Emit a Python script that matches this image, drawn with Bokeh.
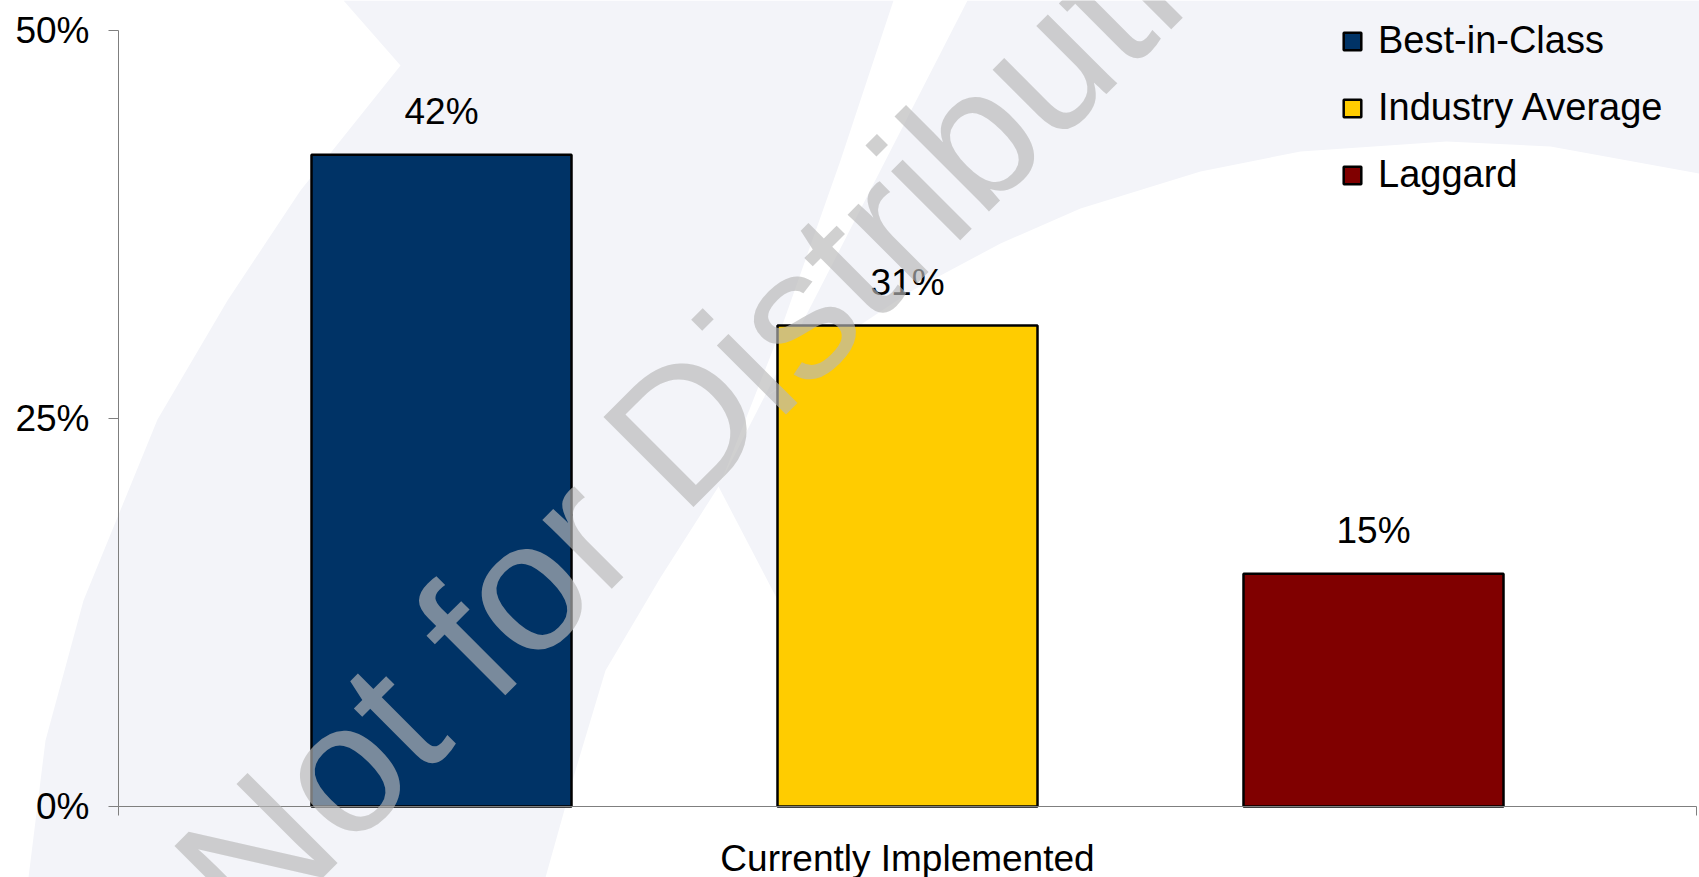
from bokeh.plotting import figure
from bokeh.models import (Range1d, FixedTicker, NumeralTickFormatter, CustomJSTickFormatter,
                          Legend, LegendItem, Label, ColumnDataSource)
from bokeh.embed import file_html
from bokeh.resources import INLINE
from bokeh.core.properties import value

# --- data -------------------------------------------------------------
category = "Currently Implemented"
series = ["Best-in-Class", "Industry Average", "Laggard"]
shares = [0.42, 0.31, 0.15]
colors = ["#003366", "#FFCC00", "#800000"]
y_ticks = [0.0, 0.25, 0.5]
watermark = "Not for Distribution"

# --- canvas geometry (pixels) ----------------------------------------
W, H = 1699, 877
AX_LEFT, AX_RIGHT, AX_TOP, AX_BOTTOM = 118, 1696, 30, 806   # plot area inside the canvas
BAR_STEP_PX = 466                                           # distance between neighbouring bars
HALF_SPAN = (AX_RIGHT - AX_LEFT) / 2 / BAR_STEP_PX          # x in units of one bar step
Y_MAX = 0.5
FONT = "Liberation Sans"


def sx(px):
    """canvas pixel column -> x data value"""
    return -HALF_SPAN + (px - AX_LEFT) / BAR_STEP_PX


def sy(py):
    """canvas pixel row -> y data value"""
    return (AX_BOTTOM - py) / (AX_BOTTOM - AX_TOP) * Y_MAX


# the frame spans the whole canvas so the backdrop can reach every edge;
# the axes sit at fixed positions inside it
p = figure(width=W, height=H,
           x_range=Range1d(sx(0), sx(W)), y_range=Range1d(sy(H), sy(0)),
           output_backend="svg", toolbar_location=None,
           min_border_left=0, min_border_right=0, min_border_top=0, min_border_bottom=0)
p.background_fill_color = "white"
p.border_fill_color = "white"
p.outline_line_color = None
p.xgrid.visible = False
p.ygrid.visible = False

# --- soft swoosh backdrop ---------------------------------------------
LAVENDER = "#f3f4f9"
left_swoosh = [(343, 0), (400, 65), (300, 190), (227, 300), (157, 419), (83, 600),
               (45, 740), (28, 877), (545, 877), (575, 770), (605, 670), (660, 577),
               (720, 483), (780, 330), (840, 160), (893, 0)]
upper_swoosh = [(967, 0), (1699, 0), (1699, 173), (1550, 146), (1446, 141), (1300, 151),
                (1200, 171), (1080, 208), (1000, 243), (910, 291), (850, 331),
                (800, 369), (763, 398)]
swoosh_tail = [(718, 486), (763, 398), (790, 380), (790, 625), (780, 605)]
shapes = [left_swoosh, upper_swoosh, swoosh_tail]
p.patches(xs=[[sx(a) for a, _ in s] for s in shapes],
          ys=[[sy(b) for _, b in s] for s in shapes],
          fill_color=LAVENDER, line_color=None, level="underlay")

# --- bars -------------------------------------------------------------
offsets = [i - (len(series) - 1) / 2 for i in range(len(series))]
source = ColumnDataSource(dict(x=offsets, top=shares, color=colors, name=series,
                               label=[f"{round(v * 100)}%" for v in shares]))
bars = p.vbar(x="x", top="top", width=260 / BAR_STEP_PX, source=source,
              fill_color="color", line_color="black", line_width=2.5)

p.text(x="x", y="top", text="label", source=source, text_align="center",
       text_baseline="alphabetic", y_offset=-43, text_font=value(FONT),
       text_font_size="37px", text_color="black")

# --- axes -------------------------------------------------------------
AXIS_GREY = "#7f7f7f"
yax = p.yaxis[0]
yax.fixed_location = -HALF_SPAN
yax.bounds = (0, Y_MAX)
yax.ticker = FixedTicker(ticks=y_ticks)
yax.formatter = NumeralTickFormatter(format="0%")
yax.axis_line_color = AXIS_GREY
yax.major_tick_line_color = AXIS_GREY
yax.major_tick_out = 10
yax.major_tick_in = 0
yax.minor_tick_line_color = None
yax.major_label_standoff = 19
yax.major_label_text_font = FONT
yax.major_label_text_font_size = "37px"
yax.major_label_text_color = "black"

xax = p.xaxis[0]
xax.fixed_location = 0
xax.bounds = (-HALF_SPAN, HALF_SPAN)
xax.ticker = FixedTicker(ticks=[-HALF_SPAN, HALF_SPAN])   # category boundaries
xax.formatter = CustomJSTickFormatter(code="return ''")
xax.axis_line_color = AXIS_GREY
xax.major_tick_line_color = AXIS_GREY
xax.major_tick_out = 9
xax.major_tick_in = 0
xax.minor_tick_line_color = None
xax.major_label_standoff = 0
xax.axis_label = category
xax.axis_label_standoff = 22
xax.axis_label_text_font = FONT
xax.axis_label_text_font_size = "37px"
xax.axis_label_text_font_style = "normal"
xax.axis_label_text_color = "black"

# --- legend -----------------------------------------------------------
items = [LegendItem(label=name, renderers=[bars], index=i) for i, name in enumerate(series)]
legend = Legend(items=items, location=(1341, 669), orientation="vertical",
                glyph_width=22, glyph_height=22, label_height=67, label_standoff=15,
                spacing=0, padding=0, margin=0,
                border_line_color=None, background_fill_alpha=0,
                label_text_font=FONT, label_text_font_size="38px",
                label_text_color="black", label_text_baseline="middle")
p.add_layout(legend)

# --- diagonal watermark on top of everything ---------------------------
p.add_layout(Label(x=sx(208), y=sy(901), text=watermark, angle=45, angle_units="deg",
                   text_font=FONT, text_font_size="185px",
                   text_align="left", text_baseline="alphabetic",
                   text_color="#b8b8b8", text_alpha=0.66, level="overlay"))

open("out.html", "w").write(file_html(p, INLINE))
